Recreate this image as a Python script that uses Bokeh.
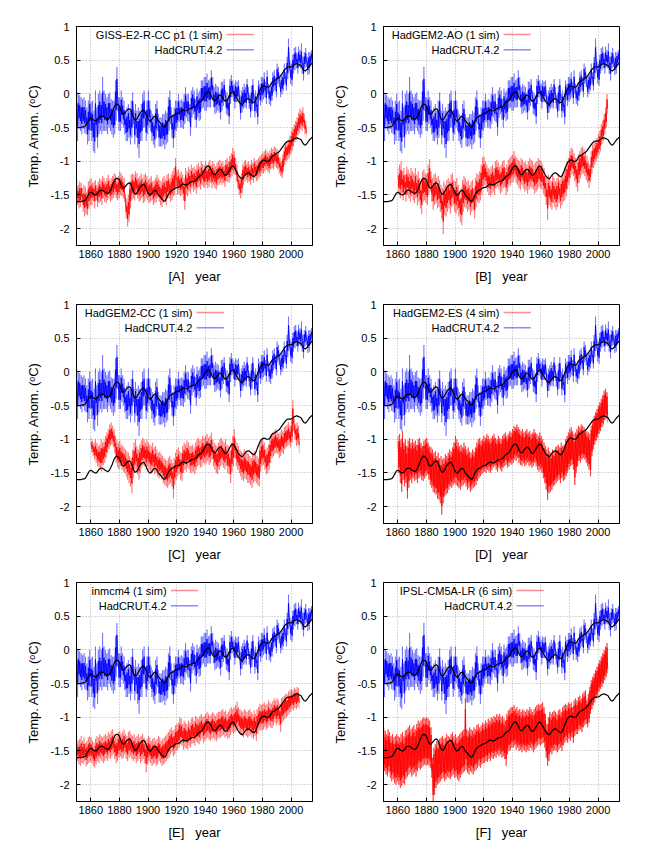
import numpy as np
from bokeh.plotting import figure
from bokeh.layouts import column, row
from bokeh.models import Range1d, FixedTicker, CustomJSTickFormatter, Label
from bokeh.embed import file_html
from bokeh.resources import INLINE

# ---------------- data (hundredths of a degree C) ----------------
HAD_START = 1850
HAD_HI = [5, 0, -2, -5, -8, -5, -10, -20, -10, 0,
          -12, -10, -25, 5, -20, 0, 5, 0, 25, 5,
          0, -5, 0, 2, -8, -10, -10, 20, 40, -5,
          -5, 5, -5, -10, -25, -20, -15, -25, -10, 2,
          -25, -15, -25, -20, -25, -15, 0, 5, -25, -10,
          5, -10, -25, -30, -35, -15, -10, -30, -35, -35,
          -30, -30, -25, -28, -5, 5, -20, -30, -20, -10,
          -10, 0, -10, -8, -10, 0, 10, 0, 0, -15,
          5, 10, 5, -8, 8, 2, 5, 20, 20, 25,
          25, 30, 20, 22, 35, 25, 10, 15, 12, 10,
          2, 18, 18, 22, 5, 2, -2, 22, 28, 20,
          15, 20, 18, 20, -2, 5, 10, 15, 10, 22,
          10, -2, 12, 22, 0, 5, -5, 20, 15, 25,
          25, 32, 18, 35, 15, 12, 18, 32, 35, 25,
          45, 40, 25, 28, 32, 45, 32, 55, 82, 48,
          45, 58, 68, 70, 60, 70, 65, 75, 55, 62,
          68, 55, 62, 62, 65]
HAD_LO = [-70, -50, -55, -60, -52, -58, -60, -75, -70, -55,
          -70, -85, -88, -65, -80, -60, -55, -60, -55, -55,
          -55, -60, -50, -55, -60, -65, -60, -40, -25, -55,
          -55, -45, -50, -60, -70, -70, -65, -75, -65, -45,
          -75, -65, -80, -95, -70, -70, -50, -50, -70, -60,
          -50, -55, -70, -75, -80, -65, -55, -78, -78, -78,
          -75, -82, -75, -72, -55, -45, -65, -80, -65, -55,
          -50, -42, -50, -50, -52, -45, -35, -40, -42, -62,
          -35, -30, -38, -50, -35, -40, -38, -22, -20, -25,
          -25, -20, -20, -20, -5, -20, -30, -28, -25, -28,
          -38, -25, -18, -10, -30, -32, -45, -15, -5, -10,
          -22, -12, -12, -10, -38, -28, -22, -20, -22, -8,
          -22, -35, -25, -10, -35, -28, -45, -10, -18, -12,
          -8, -5, -15, 0, -15, -18, -10, 2, 5, -5,
          15, 10, -5, 0, 5, 15, 5, 22, 35, 15,
          12, 30, 35, 38, 30, 40, 38, 30, 20, 38,
          40, 28, 30, 40, 45]

SMOOTH_START = 1850
SMOOTH = [-50, -50, -50, -50, -49, -49, -48, -45, -41, -37,
          -36, -37, -39, -40, -40, -37, -34, -33, -33, -34,
          -36, -37, -38, -36, -32, -27, -21, -17, -15, -16,
          -18, -24, -29, -30, -28, -25, -23, -22, -24, -30,
          -36, -39, -38, -34, -30, -27, -25, -24, -27, -32,
          -37, -40, -40, -37, -34, -33, -35, -39, -42, -44,
          -47, -49, -49, -45, -40, -36, -34, -33, -32, -30,
          -29, -29, -28, -26, -24, -24, -25, -25, -24, -22,
          -21, -20, -20, -19, -17, -14, -12, -11, -9, -5,
          -1, 2, 3, 2, -2, -7, -10, -10, -7, -4,
          -2, -2, -5, -9, -11, -10, -7, -3, 1, 3,
          2, -2, -6, -10, -13, -15, -16, -13, -10, -8,
          -7, -8, -10, -12, -13, -11, -6, 0, 5, 9,
          11, 12, 11, 10, 10, 11, 15, 18, 19, 20,
          22, 23, 25, 28, 31, 34, 37, 39, 40, 40,
          40, 41, 43, 44, 45, 44, 43, 42, 38, 35,
          34, 36, 39, 42, 44, 46]
MODEL_OFFSET = -110

GISS_START = 1850
GISS_HI = [-128, -135, -130, -132, -140, -135, -138, -145, -130, -128,
           -125, -132, -130, -128, -135, -130, -125, -128, -122, -125,
           -130, -125, -120, -128, -125, -122, -118, -120, -125, -122,
           -115, -118, -122, -125, -150, -155, -150, -130, -120, -118,
           -120, -115, -118, -125, -122, -118, -125, -120, -118, -122,
           -128, -125, -122, -130, -128, -125, -120, -125, -128, -130,
           -125, -122, -128, -120, -118, -125, -120, -115, -110, -95,
           -115, -112, -118, -115, -120, -125, -110, -115, -108, -112,
           -105, -110, -108, -112, -105, -102, -108, -100, -104, -106,
           -100, -105, -102, -98, -105, -100, -104, -108, -102, -100,
           -98, -102, -100, -105, -98, -95, -100, -92, -88, -80,
           -85, -95, -105, -120, -125, -118, -105, -100, -98, -102,
           -100, -105, -98, -102, -95, -100, -98, -95, -92, -90,
           -88, -85, -82, -85, -88, -84, -80, -82, -78, -80,
           -82, -85, -95, -100, -90, -78, -72, -70, -68, -62,
           -55, -50, -45, -40, -35, -28, -22, -25, -20, -30,
           -40]
GISS_LO = [-165, -170, -168, -160, -175, -182, -178, -180, -170, -165,
           -165, -160, -170, -158, -168, -162, -160, -165, -155, -160,
           -162, -158, -155, -160, -158, -155, -150, -155, -158, -155,
           -150, -152, -155, -160, -185, -197, -190, -170, -158, -155,
           -158, -150, -155, -160, -158, -155, -162, -160, -155, -158,
           -162, -160, -158, -165, -162, -160, -155, -160, -165, -168,
           -162, -158, -165, -155, -155, -160, -158, -152, -150, -140,
           -150, -148, -152, -150, -158, -172, -150, -152, -145, -148,
           -140, -145, -142, -148, -140, -138, -142, -135, -138, -140,
           -135, -140, -138, -132, -140, -135, -140, -142, -136, -135,
           -132, -135, -132, -138, -130, -130, -132, -125, -122, -118,
           -120, -130, -140, -150, -155, -148, -135, -130, -128, -132,
           -130, -135, -128, -132, -125, -130, -128, -125, -122, -118,
           -118, -115, -112, -115, -118, -112, -110, -112, -108, -110,
           -112, -118, -122, -125, -115, -105, -100, -98, -95, -90,
           -85, -78, -72, -68, -62, -58, -52, -55, -50, -60,
           -65]

HGAO_START = 1860
HGAO_HI = [-110, -105, -100, -115, -110, -120, -108, -112, -118, -110,
           -115, -118, -110, -120, -115, -125, -130, -115, -112, -118,
           -120, -105, -97, -115, -125, -120, -118, -125, -122, -128,
           -135, -140, -130, -135, -128, -125, -130, -120, -118, -128,
           -130, -125, -135, -145, -140, -128, -122, -125, -130, -128,
           -135, -130, -128, -140, -125, -118, -120, -115, -105, -95,
           -93, -100, -105, -110, -112, -108, -105, -110, -100, -98,
           -102, -108, -105, -100, -98, -110, -105, -98, -95, -92,
           -90, -85, -92, -95, -98, -100, -95, -98, -102, -100,
           -105, -100, -95, -98, -100, -105, -102, -100, -95, -98,
           -100, -105, -110, -120, -125, -120, -125, -130, -120, -125,
           -130, -125, -120, -128, -122, -118, -115, -110, -100, -95,
           -85, -80, -82, -88, -95, -100, -90, -85, -80, -78,
           -82, -88, -92, -100, -105, -85, -75, -72, -70, -65,
           -60, -55, -45, -40, -30, -20, 0]
HGAO_LO = [-150, -155, -148, -158, -150, -160, -150, -155, -160, -152,
           -158, -162, -155, -165, -160, -170, -178, -160, -158, -162,
           -165, -150, -145, -160, -172, -165, -162, -170, -168, -175,
           -185, -208, -180, -182, -175, -170, -178, -168, -165, -175,
           -178, -172, -182, -190, -195, -175, -168, -170, -175, -172,
           -180, -175, -172, -185, -168, -160, -162, -158, -150, -140,
           -135, -140, -145, -150, -152, -148, -145, -150, -140, -138,
           -142, -148, -145, -140, -138, -150, -145, -138, -135, -132,
           -130, -125, -132, -135, -140, -142, -135, -140, -145, -142,
           -148, -142, -138, -140, -142, -148, -145, -142, -138, -140,
           -142, -148, -152, -165, -187, -165, -168, -172, -162, -168,
           -172, -168, -162, -170, -165, -160, -158, -152, -142, -135,
           -125, -120, -122, -130, -138, -145, -132, -125, -120, -118,
           -122, -128, -132, -140, -130, -118, -110, -105, -100, -95,
           -90, -85, -75, -70, -60, -50, -30]

HGCC_START = 1860
HGCC_HI = [-98, -102, -105, -100, -105, -110, -108, -100, -105, -102,
           -95, -90, -85, -78, -75, -80, -85, -95, -100, -105,
           -102, -108, -110, -112, -115, -118, -120, -125, -128, -115,
           -105, -100, -110, -115, -108, -102, -98, -100, -105, -100,
           -105, -108, -110, -105, -112, -110, -115, -120, -118, -122,
           -125, -128, -130, -132, -128, -125, -130, -135, -128, -120,
           -115, -112, -118, -120, -110, -105, -108, -102, -105, -110,
           -110, -108, -112, -105, -100, -98, -102, -100, -95, -98,
           -95, -92, -98, -95, -90, -100, -105, -108, -110, -105,
           -100, -98, -102, -105, -100, -108, -110, -115, -105, -95,
           -85, -100, -105, -110, -115, -118, -120, -115, -118, -120,
           -122, -125, -128, -120, -118, -122, -125, -128, -105, -100,
           -98, -105, -115, -112, -108, -98, -92, -90, -88, -85,
           -88, -92, -90, -85, -88, -82, -80, -78, -75, -80,
           -72, -42, -70, -78, -75, -80]
HGCC_LO = [-120, -125, -130, -135, -140, -142, -145, -148, -138, -135,
           -128, -120, -115, -110, -108, -112, -120, -135, -142, -145,
           -140, -145, -148, -150, -155, -160, -165, -170, -180, -158,
           -150, -145, -152, -160, -150, -142, -138, -140, -145, -140,
           -145, -148, -150, -145, -152, -150, -155, -158, -155, -160,
           -165, -168, -170, -172, -168, -165, -170, -188, -168, -160,
           -155, -152, -160, -162, -150, -145, -148, -142, -145, -150,
           -150, -148, -152, -145, -140, -138, -142, -140, -135, -138,
           -135, -132, -138, -135, -130, -140, -145, -150, -152, -145,
           -140, -138, -142, -145, -140, -150, -152, -165, -148, -140,
           -128, -140, -145, -150, -155, -160, -162, -158, -160, -165,
           -165, -168, -172, -165, -162, -165, -168, -170, -148, -140,
           -138, -145, -152, -150, -145, -135, -128, -125, -122, -120,
           -122, -128, -125, -120, -122, -115, -112, -110, -108, -112,
           -105, -88, -100, -110, -108, -120]

HGES_START = 1860
HGES_HI = [-95, -92, -100, -88, -105, -100, -110, -102, -98, -105,
           -100, -105, -102, -108, -100, -98, -105, -110, -102, -100,
           -98, -105, -110, -112, -115, -120, -118, -125, -120, -128,
           -125, -130, -128, -122, -125, -120, -115, -118, -112, -105,
           -95, -100, -105, -110, -108, -112, -105, -110, -115, -112,
           -118, -120, -115, -118, -112, -105, -100, -98, -102, -100,
           -95, -98, -92, -95, -100, -98, -95, -92, -98, -100,
           -95, -98, -100, -95, -92, -90, -95, -92, -88, -90,
           -85, -80, -82, -78, -82, -85, -88, -85, -90, -88,
           -85, -90, -88, -92, -90, -85, -90, -92, -95, -90,
           -95, -100, -105, -110, -115, -112, -118, -120, -115, -118,
           -112, -110, -108, -112, -105, -110, -108, -100, -95, -90,
           -85, -82, -88, -92, -90, -85, -80, -82, -78, -80,
           -82, -85, -88, -90, -92, -80, -72, -65, -60, -55,
           -50, -45, -40, -35, -28, -25, -30]
HGES_LO = [-150, -165, -178, -160, -170, -165, -188, -172, -160, -165,
           -158, -162, -160, -165, -158, -155, -160, -162, -158, -155,
           -152, -160, -168, -172, -178, -180, -182, -188, -190, -195,
           -212, -195, -185, -182, -180, -175, -170, -172, -168, -165,
           -168, -170, -172, -175, -170, -168, -165, -170, -175, -172,
           -178, -175, -172, -170, -168, -162, -158, -155, -152, -150,
           -148, -150, -145, -148, -150, -146, -142, -140, -145, -148,
           -142, -145, -148, -142, -140, -138, -142, -140, -135, -138,
           -135, -130, -132, -128, -135, -138, -140, -136, -140, -138,
           -135, -140, -138, -142, -140, -135, -140, -145, -148, -145,
           -150, -158, -165, -175, -190, -180, -178, -175, -170, -168,
           -165, -162, -160, -165, -158, -162, -160, -155, -150, -145,
           -140, -138, -145, -168, -150, -140, -132, -135, -130, -128,
           -130, -135, -140, -145, -155, -125, -115, -108, -102, -98,
           -92, -88, -82, -78, -72, -70, -75]

INM_START = 1850
INM_HI = [-130, -135, -132, -128, -135, -130, -138, -135, -130, -128,
          -130, -135, -138, -132, -128, -130, -125, -128, -130, -127,
          -125, -128, -122, -125, -120, -118, -125, -130, -128, -122,
          -120, -125, -122, -118, -125, -128, -122, -120, -125, -128,
          -125, -130, -128, -125, -130, -128, -125, -130, -135, -132,
          -128, -130, -135, -132, -130, -135, -132, -128, -130, -135,
          -132, -130, -128, -125, -122, -118, -115, -120, -118, -112,
          -110, -108, -100, -102, -110, -105, -108, -110, -105, -108,
          -102, -100, -105, -98, -100, -102, -98, -95, -100, -98,
          -95, -92, -95, -98, -95, -92, -95, -98, -94, -92,
          -92, -90, -88, -92, -90, -95, -92, -88, -85, -88,
          -85, -82, -77, -85, -88, -90, -92, -88, -90, -92,
          -90, -88, -92, -95, -90, -95, -88, -85, -80, -82,
          -80, -78, -82, -80, -75, -78, -80, -76, -72, -75,
          -72, -75, -80, -72, -70, -68, -65, -66, -62, -60,
          -58, -60, -56, -58, -55, -57]
INM_LO = [-165, -170, -172, -168, -170, -165, -173, -170, -168, -165,
          -168, -172, -175, -170, -165, -168, -162, -165, -168, -165,
          -162, -165, -160, -162, -158, -155, -162, -168, -165, -160,
          -158, -162, -160, -155, -162, -165, -160, -158, -162, -165,
          -162, -168, -165, -162, -168, -165, -162, -168, -182, -170,
          -165, -168, -172, -170, -168, -172, -170, -165, -168, -172,
          -170, -168, -165, -162, -160, -155, -152, -158, -155, -150,
          -148, -145, -140, -142, -148, -145, -146, -148, -142, -145,
          -140, -138, -142, -136, -138, -140, -135, -132, -138, -135,
          -132, -130, -133, -135, -132, -130, -133, -136, -132, -130,
          -130, -128, -126, -130, -128, -132, -130, -126, -122, -125,
          -122, -120, -118, -124, -126, -128, -130, -126, -128, -130,
          -128, -126, -130, -132, -128, -135, -125, -120, -118, -120,
          -118, -115, -118, -116, -112, -115, -116, -112, -108, -112,
          -108, -112, -122, -108, -105, -102, -100, -98, -95, -92,
          -88, -90, -86, -88, -85, -87]

IPSL_START = 1850
IPSL_HI = [-115, -120, -125, -118, -122, -128, -125, -130, -128, -125,
           -128, -130, -125, -122, -128, -120, -118, -115, -112, -118,
           -115, -112, -118, -110, -105, -108, -105, -102, -100, -102,
           -100, -102, -105, -115, -160, -145, -140, -135, -138, -132,
           -130, -128, -132, -130, -125, -128, -130, -125, -122, -128,
           -125, -130, -128, -125, -122, -120, -118, -72, -118, -120,
           -115, -118, -120, -115, -118, -112, -110, -115, -112, -108,
           -110, -105, -108, -102, -105, -100, -102, -98, -100, -95,
           -98, -95, -100, -98, -102, -105, -95, -90, -88, -85,
           -85, -82, -88, -85, -90, -88, -92, -88, -90, -92,
           -88, -90, -85, -88, -92, -88, -85, -82, -80, -82,
           -80, -78, -85, -95, -110, -100, -92, -95, -92, -90,
           -92, -95, -90, -88, -92, -85, -82, -80, -82, -78,
           -80, -78, -85, -75, -72, -75, -70, -68, -72, -65,
           -62, -60, -75, -65, -55, -45, -40, -35, -30, -25,
           -20, -15, -10, -5, 0, 5, 10]
IPSL_LO = [-180, -185, -188, -182, -190, -195, -192, -198, -200, -195,
           -200, -205, -202, -198, -200, -192, -188, -185, -182, -188,
           -185, -182, -188, -180, -175, -178, -175, -172, -170, -172,
           -170, -172, -175, -190, -225, -215, -205, -200, -198, -195,
           -192, -190, -195, -192, -188, -190, -192, -188, -185, -190,
           -188, -192, -195, -190, -185, -182, -180, -178, -182, -185,
           -180, -182, -185, -180, -178, -175, -172, -175, -170, -168,
           -168, -165, -166, -162, -165, -160, -162, -158, -160, -155,
           -158, -155, -160, -158, -162, -172, -155, -150, -148, -145,
           -145, -142, -148, -145, -150, -148, -152, -148, -150, -152,
           -148, -150, -145, -148, -152, -148, -145, -142, -140, -142,
           -140, -138, -145, -160, -172, -165, -152, -155, -150, -148,
           -150, -152, -148, -145, -150, -142, -138, -135, -138, -132,
           -135, -130, -138, -128, -125, -125, -120, -118, -122, -115,
           -112, -110, -115, -108, -95, -88, -82, -78, -72, -68,
           -62, -58, -55, -50, -45, -40, -35]

PANEL_LETTERS = ["A", "B", "C", "D", "E", "F"]
MODEL_NAMES = ["GISS-E2-R-CC p1 (1 sim)", "HadGEM2-AO (1 sim)", "HadGEM2-CC (1 sim)",
               "HadGEM2-ES (4 sim)", "inmcm4 (1 sim)", "IPSL-CM5A-LR (6 sim)"]
MODEL_STARTS = [GISS_START, HGAO_START, HGCC_START, HGES_START, INM_START, IPSL_START]
MODEL_HIS = [GISS_HI, HGAO_HI, HGCC_HI, HGES_HI, INM_HI, IPSL_HI]
MODEL_LOS = [GISS_LO, HGAO_LO, HGCC_LO, HGES_LO, INM_LO, IPSL_LO]
MODEL_SIMS = [1, 1, 1, 4, 1, 6]
OBS_NAME = "HadCRUT.4.2"
X_TICKS = [1860, 1880, 1900, 1920, 1940, 1960, 1980, 2000]
Y_TICKS = [-2, -1.5, -1, -0.5, 0, 0.5, 1]

# ---------------- layout / style ----------------
FONT = "Liberation Sans"
LEGEND_RIGHT = [1952, 1931, 1931, 1931, 1913, 1940]   # year where legend text ends
RED = "#ff0000"
BLUE = "#0000ff"


def zig(start, hi, lo, frac):
    hi = np.asarray(hi, dtype=float) / 100.0
    lo = np.asarray(lo, dtype=float) / 100.0
    mid = (hi + lo) / 2
    half = (hi - lo) / 2
    a = mid + frac * half
    b = mid - frac * half
    yrs = start + np.arange(len(hi))
    xs = np.empty(2 * len(hi))
    ys = np.empty(2 * len(hi))
    xs[0::2] = yrs + 0.25
    xs[1::2] = yrs + 0.75
    ys[0::2] = a
    ys[1::2] = b
    return xs, ys


def make_panel(i):
    col = i % 2
    rw = i // 2
    width = 315 if col == 0 else 307
    b_left = 76 if col == 0 else 68
    height = 286 if rw == 0 else 278
    b_top = 26 if rw == 0 else 18
    p = figure(width=width, height=height, output_backend="svg", toolbar_location=None,
               x_range=Range1d(1850, 2015), y_range=Range1d(-2.25, 1),
               min_border_left=b_left, min_border_right=3, min_border_top=b_top,
               min_border_bottom=41)
    p.outline_line_color = "black"
    p.outline_line_width = 1
    p.background_fill_color = "white"
    p.border_fill_color = "white"

    for ax in (p.xaxis[0], p.yaxis[0]):
        ax.major_tick_in = 4
        ax.major_tick_out = 0
        ax.minor_tick_in = 0
        ax.minor_tick_out = 0
        ax.axis_line_color = "black"
        ax.major_label_text_font = FONT
        ax.major_label_text_font_size = "11px"
        ax.major_label_text_color = "black"
        ax.axis_label_text_font = FONT
        ax.axis_label_text_font_size = "13px"
        ax.axis_label_text_font_style = "normal"
        ax.axis_label_text_color = "black"
    p.xaxis.ticker = FixedTicker(ticks=X_TICKS)
    p.yaxis.ticker = FixedTicker(ticks=Y_TICKS)
    p.yaxis.formatter = CustomJSTickFormatter(code="return tick.toString();")
    p.xaxis.major_label_standoff = 4
    p.yaxis.major_label_standoff = 7
    p.xaxis.axis_label_standoff = 8
    p.yaxis.axis_label_standoff = 7
    p.xaxis.axis_label = "[" + PANEL_LETTERS[i] + "]\u00a0\u00a0\u00a0year"
    p.yaxis.axis_label = "Temp. Anom. (\u1d52C)"

    p.xgrid.ticker = FixedTicker(ticks=X_TICKS)
    p.ygrid.ticker = FixedTicker(ticks=Y_TICKS)
    for g in (p.xgrid[0], p.ygrid[0]):
        g.grid_line_color = "#b0b0b0"
        g.grid_line_dash = "1 2"
        g.grid_line_width = 1

    # observations
    xs, ys = zig(HAD_START, HAD_HI, HAD_LO, 1.0)
    p.line(xs, ys, color=BLUE, alpha=0.35, line_width=1, line_join="round")
    xs, ys = zig(HAD_START, HAD_HI, HAD_LO, 0.45)
    p.line(xs, ys, color=BLUE, alpha=0.9, line_width=1, line_join="round")

    # model
    dense = MODEL_SIMS[i] > 1
    xs, ys = zig(MODEL_STARTS[i], MODEL_HIS[i], MODEL_LOS[i], 1.0)
    p.line(xs, ys, color=RED, alpha=0.55 if dense else 0.35, line_width=1, line_join="round")
    xs, ys = zig(MODEL_STARTS[i], MODEL_HIS[i], MODEL_LOS[i], 0.7 if dense else 0.45)
    p.line(xs, ys, color=RED, alpha=0.9, line_width=1, line_join="round")

    # harmonic reconstruction (upper) and shifted copy (lower)
    sy = np.asarray(SMOOTH, dtype=float) / 100.0
    sx = SMOOTH_START + np.arange(len(sy))
    p.line(sx, sy, color="black", line_width=1.2)
    p.line(sx, sy + MODEL_OFFSET / 100.0, color="black", line_width=1.2)

    # legend (text right-aligned, sample line to its right)
    xr = LEGEND_RIGHT[i]
    for name, yv, c in ((MODEL_NAMES[i], 0.88, RED), (OBS_NAME, 0.655, BLUE)):
        p.add_layout(Label(x=xr, y=yv, text=name, text_align="right", text_baseline="middle",
                           text_font=FONT, text_font_size="11px", text_color="black"))
        p.segment(x0=[xr + 3], y0=[yv], x1=[xr + 22], y1=[yv], color=c, alpha=0.45, line_width=1.5)
    return p


panels = [make_panel(i) for i in range(6)]
layout = column(row(panels[0], panels[1]), row(panels[2], panels[3]), row(panels[4], panels[5]))

open("out.html", "w").write(file_html(layout, INLINE))
